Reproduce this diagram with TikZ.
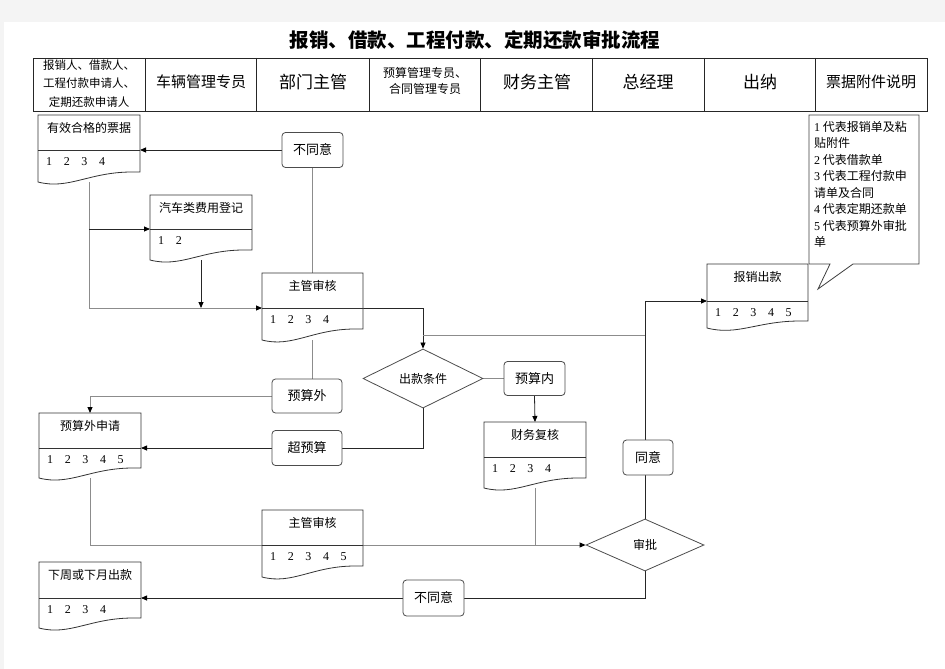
\documentclass[tikz,border=0pt]{standalone}
\usepackage{fontspec}
\setmainfont{Liberation Serif}
\newfontfamily\cjk{Noto Sans CJK SC}
\usetikzlibrary{arrows.meta,shapes.geometric}
\pgfdeclarelayer{back}
\pgfdeclarelayer{conn}
\pgfsetlayers{back,conn,main}
\definecolor{bggray}{HTML}{F4F4F4}
\newcommand\gp{\hskip11.6pt}
\newcommand\nm[1]{{\rmfamily #1}}
\tikzset{
 ln/.style={draw=black!85, line width=0.8pt},
 gl/.style={draw=black!45, line width=0.9pt},
 arr/.style={-{Triangle[length=6pt,width=5pt,color=black]}},
 rbox/.style={draw=black!70, line width=0.8pt, rounded corners=3.5pt, fill=white, inner sep=0pt, font=\cjk\fontsize{13}{15}\selectfont},
 dia/.style={diamond, draw=black!70, line width=0.8pt, fill=white, inner sep=0pt, font=\cjk\fontsize{12}{14}\selectfont},
 doct/.style={font=\cjk\fontsize{12}{14}\selectfont, inner sep=0pt},
 docn/.style={font=\fontsize{12}{14}\selectfont, inner sep=0pt},
 docline/.style={draw=black!80, line width=0.8pt, fill=white},
 hdr/.style={draw=black!85, line width=0.8pt},
}
% name, L, T, R, div, yRight, yLeft, title, numbers
\newcommand\docshape[9]{%
 \node[inner sep=0pt,outer sep=0pt,minimum width={#4-#2},minimum height={#7-#3},anchor=north west] (#1) at (#2,#3) {};
 \coordinate (#1-dw) at (#2,#5);
 \coordinate (#1-de) at (#4,#5);
 \path[docline] (#2,#7) -- (#2,#3) -- (#4,#3) -- (#4,#6) -- ({#4-0.08*(#4-#2)},#6) .. controls ({#2+0.5*(#4-#2)},#6) and ({#2+0.3*(#4-#2)},{#7+8}) .. (#2,#7) -- cycle;
 \draw[draw=black!80, line width=0.8pt] (#1-dw) -- (#1-de);
 \node[doct] (#1-t) at ({(#2+#4)/2},{#3+13}) {#8};
 \node[docn,anchor=west] (#1-n) at ({#2+8},{#5+12}) {#9};
}
\begin{document}
\begin{tikzpicture}[x=1pt,y=-1pt]
\useasboundingbox (0,0) rectangle (945,669);
\begin{pgfonlayer}{back}
\fill[bggray] (0,0) rectangle (945,669);
\fill[white] (4,22) rectangle (945,669);
\end{pgfonlayer}
% title
\node (title) at (475,40) {\cjk\bfseries\fontsize{19.5}{20}\selectfont 报销、借款、工程付款、定期还款审批流程};
% header
\draw[hdr] (33,58) rectangle (927,111);
\foreach \xx in {145.7,256.7,369,480.7,592.7,704.3,815.3} \draw[hdr] (\xx,58) -- (\xx,111);
\node[align=center,font=\cjk\fontsize{11.5}{18.5}\selectfont] (h1) at (89,83.5) {报销人、借款人、\\工程付款申请人、\\定期还款申请人};
\node[font=\cjk\fontsize{15}{17}\selectfont] (h2) at (201,82) {车辆管理专员};
\node[font=\cjk\fontsize{17}{19}\selectfont] (h3) at (313,82) {部门主管};
\node[align=center,font=\cjk\fontsize{12}{16}\selectfont] (h4) at (425,81) {预算管理专员、\\合同管理专员};
\node[font=\cjk\fontsize{17}{19}\selectfont] (h5) at (537,82) {财务主管};
\node[font=\cjk\fontsize{17}{19}\selectfont] (h6) at (648,82) {总经理};
\node[font=\cjk\fontsize{17}{19}\selectfont] (h7) at (760,82) {出纳};
\node[font=\cjk\fontsize{15}{17}\selectfont] (h8) at (871,82) {票据附件说明};
% documents
\docshape{d1}{38}{115}{140}{150}{172}{182}{有效合格的票据}{1\gp 2\gp 3\gp 4}
\docshape{d2}{150}{195}{252}{229}{250}{260}{汽车类费用登记}{1\gp 2}
\docshape{d3}{262}{273}{363}{308}{329}{340}{主管审核}{1\gp 2\gp 3\gp 4}
\docshape{d4}{39}{413}{141}{448}{468}{478}{预算外申请}{1\gp 2\gp 3\gp 4\gp 5}
\docshape{d5}{262}{510}{363}{545}{566}{577}{主管审核}{1\gp 2\gp 3\gp 4\gp 5}
\docshape{d6}{484}{422}{586}{457}{478}{488}{财务复核}{1\gp 2\gp 3\gp 4}
\docshape{d7}{39}{562}{141}{598}{618}{628}{下周或下月出款}{1\gp 2\gp 3\gp 4}
\docshape{d8}{707}{264}{808}{301}{321}{328}{报销出款}{1\gp 2\gp 3\gp 4\gp 5}
% rounded boxes
\node[rbox,minimum width=61pt,minimum height=35pt] (nd1) at (312.5,150) {不同意};
\node[rbox,minimum width=70pt,minimum height=34pt] (ysw) at (307,396) {预算外};
\node[rbox,minimum width=70pt,minimum height=35pt] (cys) at (307,448) {超预算};
\node[rbox,minimum width=61pt,minimum height=34pt] (ysn) at (534.5,378.5) {预算内};
\node[rbox,minimum width=50pt,minimum height=35pt] (ty) at (648,457.5) {同意};
\node[rbox,minimum width=61pt,minimum height=36pt] (nd2) at (433.5,598) {不同意};
% diamonds
\node[dia,minimum width=120pt,minimum height=51pt] (ckt) at (423,378.5) {出款条件};
\node[dia,minimum width=118pt,minimum height=52pt] (sp) at (645,545) {审批};
% callout
\path[draw=black!75, line width=0.8pt, fill=white] (809,115) -- (919,115) -- (919,264) -- (853,264) -- (818,289) -- (830,264) -- (809,264) -- cycle;
\node[anchor=north west,align=left,inner sep=0pt,font=\cjk\fontsize{12}{16.5}\selectfont] (note) at (814,121)
 {\nm{1} 代表报销单及粘\\贴附件\\\nm{2} 代表借款单\\\nm{3} 代表工程付款申\\请单及合同\\\nm{4} 代表定期还款单\\\nm{5} 代表预算外审批\\单};
% connectors
\begin{pgfonlayer}{conn}
\coordinate (j1) at (423,335);
\coordinate (j2) at (645,335);
\draw[ln,arr] (nd1.west) -- (d1-de);
\draw[gl] (nd1.south) -- (d3.north);
\draw[gl,arr] (d1.south) |- (d3-dw);
\draw[ln,arr] (d1.south |- d2-dw) -- (d2-dw);
\draw[ln,arr] (d2.south) -- (d2.south |- d3-dw);
\draw[ln,arr] (d3-de) -| (ckt.north);
\draw[gl] (j1) -- (j2);
\draw[gl] (d3.south) -- (d3.south |- ysw.north);
\draw[gl,arr] (ysw.west) -| (d4.north);
\draw[ln] (ckt.south) |- (cys.east);
\draw[ln,arr] (cys.west) -- (d4-de);
\draw[gl] (ckt.east) -- (ysn.west);
\draw[ln,arr] (ysn.south) -- (d6.north);
\draw[gl] (d6.south) -- (d6.south |- sp.west);
\draw[gl,arr] (d4.south) |- (sp.west);
\draw[ln] (sp.north) -- (sp.north |- ty.south);
\draw[ln,arr] (sp.north |- ty.north) |- (d8-dw);
\draw[ln] (sp.south) |- (nd2.east);
\draw[ln,arr] (nd2.west) -- (d7-de);
\end{pgfonlayer}
\end{tikzpicture}
\end{document}
